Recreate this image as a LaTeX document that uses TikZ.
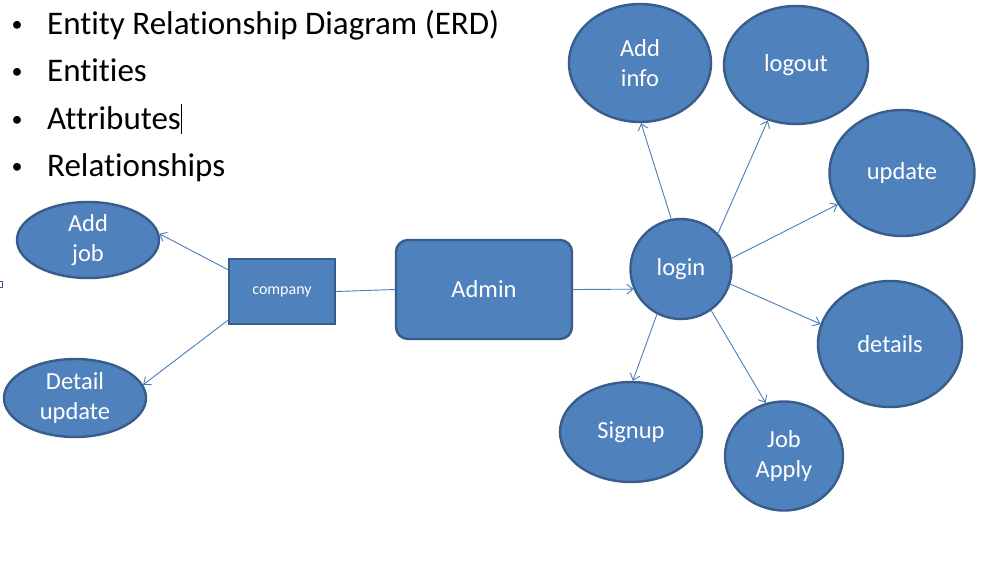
\documentclass[tikz,border=0pt]{standalone}
\usepackage{fontspec}
\setmainfont[Ligatures=NoCommon]{Carlito}
\usetikzlibrary{arrows.meta,shapes.geometric}
\definecolor{fillblue}{HTML}{4F81BD}
\definecolor{edgeblue}{HTML}{385D8A}
\definecolor{lineblue}{HTML}{4A7EBB}
\tikzset{
  x=1pt,y=-1pt,
  ent/.style={draw=edgeblue,line width=2.4pt,fill=fillblue,text=white,font=\fontsize{24.5}{29.5}\selectfont,align=center,inner sep=0pt},
  attr/.style={ent,ellipse},
  arr/.style={draw=lineblue,line width=0.9pt,-{Straight Barb[length=6pt,width=10pt,line width=0.9pt]}},
  plain/.style={draw=lineblue,line width=0.9pt},
  bul/.style={anchor=base west,font=\fontsize{33}{38}\selectfont,inner sep=0pt},
  buldot/.style={anchor=base,font=\fontsize{22}{26}\selectfont,inner sep=0pt},
}
\begin{document}
\begin{tikzpicture}
\useasboundingbox[fill=white] (0,0) rectangle (992,560);
% bullet list
\foreach \yy/\tt/\nm in {34/Entity Relationship Diagram (ERD)/b1,81/Entities/b2,129/Attributes/b3,176/Relationships/b4}{
  \node[buldot] (\nm d) at (17,\yy-3) {•};
  \node[bul] (\nm) at (47,\yy) {\tt};
}
\coordinate (curtop) at (181,104);
\coordinate (curbot) at (181,134);
\draw[line width=1pt] (curtop) -- (curbot);
\node[draw=edgeblue,line width=0.6pt,minimum width=3pt,minimum height=6pt,inner sep=0pt] (tiny) at (1,284.5) {};
% entities
\node[ent,minimum width=106pt,minimum height=65pt,font=\fontsize{16}{19}\selectfont] (company) at (282,291.5) {company};
\node[ent,rounded corners=12pt,minimum width=176pt,minimum height=99pt] (admin) at (484,289.5) {Admin};
% attributes
\node[attr,minimum width=142pt,minimum height=76pt] (addjob) at (88,240) {Add\\job};
\node[attr,minimum width=142pt,minimum height=78pt] (detail) at (75,398) {Detail\\update};
\node[attr,minimum width=101pt,minimum height=100pt] (login) at (681,269) {login};
\node[attr,minimum width=142pt,minimum height=118pt] (addinfo) at (640,63) {Add\\info};
\node[attr,minimum width=144pt,minimum height=118pt] (logout) at (796,65) {logout};
\node[attr,minimum width=145pt,minimum height=126pt] (update) at (902,173) {update};
\node[attr,minimum width=144pt,minimum height=126pt] (details) at (890,344) {details};
\node[attr,minimum width=142pt,minimum height=100pt] (signup) at (631,432) {Signup};
\node[attr,minimum width=118pt,minimum height=109pt] (jobapply) at (784,456) {Job\\Apply};
% connectors
\draw[arr] (company.158) -- (addjob.5);
\draw[arr] (company.208) -- (detail.11);
\draw[plain] (company.east) -- (admin.west);
\draw[arr] (admin.east) -- (login.203);
\draw[arr] (login.101) -- (addinfo.-89);
\draw[arr] (login.44) -- (logout.-117);
\draw[arr] (login.12) -- (update.206);
\draw[arr] (login.-17) -- (details.164);
\draw[arr] (login.-118) -- (signup.88);
\draw[arr] (login.-54) -- (jobapply.109);
\end{tikzpicture}
\end{document}
